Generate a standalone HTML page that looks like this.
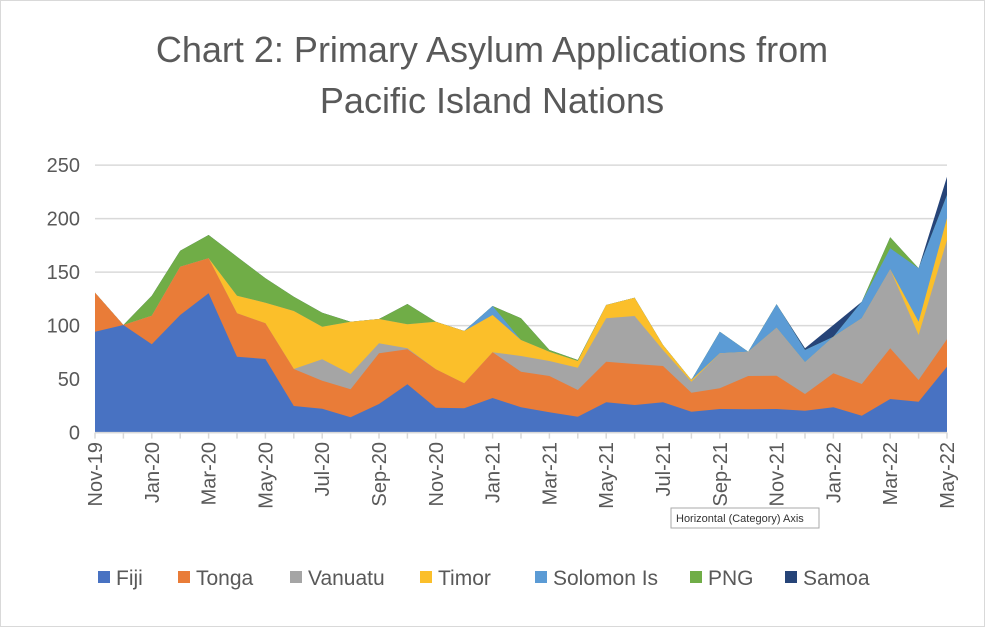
<!DOCTYPE html>
<html><head><meta charset="utf-8"><style>
body{margin:0;background:#fff;}
svg text{font-family:"Liberation Sans",sans-serif;fill:#595959;}
</style></head><body>
<svg id="c" width="985" height="627" xmlns="http://www.w3.org/2000/svg">
<rect x="0.5" y="0.5" width="984" height="626" fill="#fff" stroke="#d9d9d9"/>
<text x="492" y="62" font-size="36" text-anchor="middle">Chart 2: Primary Asylum Applications from</text>
<text x="492" y="113" font-size="36" text-anchor="middle">Pacific Island Nations</text>
<g id="grid" stroke="#d9d9d9" stroke-width="1.5"></g>
<g id="areas"></g>
<g id="ax"></g>
<rect x="671" y="508" width="148" height="20" fill="#fff" stroke="#aaa"/>
<text x="676" y="522" font-size="11" style="fill:#333">Horizontal (Category) Axis</text>
<g id="leg" font-size="21"></g>
</svg>
<script>
var S="http://www.w3.org/2000/svg",svg=document.getElementById('c');
function el(p,t,a,txt){var e=document.createElementNS(S,t);for(var k in a)e.setAttribute(k,a[k]);if(txt)e.textContent=txt;document.getElementById(p).appendChild(e);return e;}
var X0=95,DX=28.4,B=432.6,ST=53.5;
for(var g=0;g<=5;g++){var y=B-g*ST;el('grid','line',{x1:95,x2:947,y1:y,y2:y});el('ax','text',{x:80,y:y+7,'font-size':20,'text-anchor':'end'},String(g*50));}
var fiji=[515,495,553,465,400,590,597,738,746,772,732,673,743,745,714,742,757,770,727,735,727,755,747,748,747,752,742,767,717,725,620];
var tonga=[398,495,467,320,295,460,490,627,662,688,580,568,628,670,577,635,648,690,605,612,618,698,685,648,647,702,640,672,565,660,538];
var van=[398,495,467,320,295,460,490,627,598,642,550,565,628,670,577,588,603,623,475,468,570,665,580,575,503,607,530,475,328,525,240];
var tim=[398,495,467,320,295,407,428,453,500,485,477,493,485,513,465,540,575,603,435,413,555,660,580,575,503,607,530,475,328,485,175];
var sol=tim.slice();sol[14]=438;sol[22]=515;sol[24]=433;sol[25]=570;sol[27]=425;sol[28]=265;sol[29]=325;sol[30]=105;
var png=[398,495,407,272,225,290,355,410,458,485,477,432,485,513,438,475,570,600,435,413,555,660,515,575,433,570,530,425,232,325,105];
var sam=png.slice();sam[25]=565;sam[26]=495;sam[30]=50;
var layers=[[sam,'#264478'],[png,'#70ad47'],[sol,'#5b9bd5'],[tim,'#fbbf2a'],[van,'#a5a5a5'],[tonga,'#e97c38'],[fiji,'#4872c2']];
layers.forEach(function(l){var d='M95,'+B;l[0].forEach(function(z,i){d+=' L'+(X0+i*DX).toFixed(1)+','+(160+z/3).toFixed(1);});d+=' L947,'+B+' Z';el('areas','path',{d:d,fill:l[1]});});
el('ax','line',{x1:95,x2:947,y1:B,y2:B,stroke:'#d9d9d9','stroke-width':1.5});
var mon=['Nov','Dec','Jan','Feb','Mar','Apr','May','Jun','Jul','Aug','Sep','Oct'];
for(var i=0;i<=30;i++){var x=X0+i*DX;el('ax','line',{x1:x,x2:x,y1:B,y2:B+6,stroke:'#d9d9d9','stroke-width':1.5});
if(i%2==0){var m=i%12,yr=19+Math.floor((10+i)/12);el('ax','text',{x:0,y:0,'font-size':20,'text-anchor':'end',transform:'translate('+(x+7)+',442) rotate(-90)'},mon[m]+'-'+yr);}}
var lg=[['Fiji','#4872c2',98],['Tonga','#e97c38',178],['Vanuatu','#a5a5a5',290],['Timor','#fbbf2a',420],['Solomon Is','#5b9bd5',535],['PNG','#70ad47',690],['Samoa','#264478',785]];
lg.forEach(function(a){el('leg','rect',{x:a[2],y:571,width:12,height:12,fill:a[1]});el('leg','text',{x:a[2]+18,y:585},a[0]);});
</script>
</body></html>
